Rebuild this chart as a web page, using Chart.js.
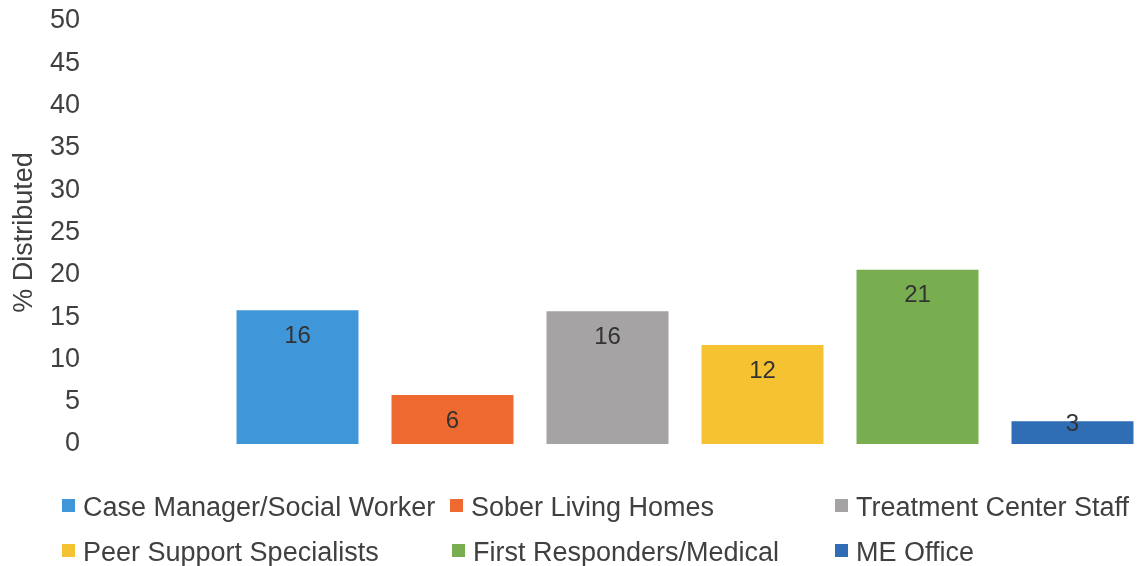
<!DOCTYPE html>
<html>
<head>
<meta charset="utf-8">
<script src="https://cdn.jsdelivr.net/npm/chart.js@4/dist/chart.umd.min.js"></script>
<style>
  html, body { margin: 0; padding: 0; background: #fff; overflow: hidden; }
  #wrap { position: relative; width: 1150px; height: 566px; }
  #legend { position: absolute; left: 0; top: 0; width: 1141px; height: 566px; pointer-events: none;
    font-family: "Liberation Sans", Arial, sans-serif; font-size: 27px; color: #404040; }
  .item { position: absolute; display: flex; align-items: center; white-space: nowrap; height: 30px; }
  .sw { width: 13px; height: 13px; margin-right: 8px; margin-top: -3px; }
</style>
</head>
<body>
<div id="wrap">
  <canvas id="c" width="1150" height="566"></canvas>
  <div id="legend"></div>
</div>
<script>
const categories = ["Case Manager/Social Worker", "Sober Living Homes", "Treatment Center Staff",
                    "Peer Support Specialists", "First Responders/Medical", "ME Office"];
const values = [15.8, 5.8, 15.7, 11.7, 20.6, 2.7];
const colors = ["#3F96D9", "#EE6A30", "#A5A3A3", "#F5C232", "#78AD50", "#2F6DB5"];
const yTitle = "% Distributed";
const yMin = 0, yMax = 50, yStep = 5;

const legendPos = [[62, 507], [450, 507], [835, 507], [62, 552], [452, 552], [835, 552]];
const legend = document.getElementById('legend');
categories.forEach((cat, i) => {
  const d = document.createElement('div');
  d.className = 'item';
  d.style.left = legendPos[i][0] + 'px';
  d.style.top = (legendPos[i][1] - 15) + 'px';
  d.innerHTML = '<span class="sw" style="background:' + colors[i] + '"></span><span>' + cat + '</span>';
  legend.appendChild(d);
});

const labelPlugin = {
  id: 'barLabels',
  afterDatasetsDraw(chart) {
    const ctx = chart.ctx;
    const meta = chart.getDatasetMeta(0);
    ctx.save();
    ctx.font = '24px "Liberation Sans", Arial, sans-serif';
    ctx.fillStyle = '#333333';
    ctx.textAlign = 'center';
    ctx.textBaseline = 'middle';
    meta.data.forEach((bar, i) => {
      const h = bar.base - bar.y;
      const y = h > 40 ? bar.y + 26 : bar.y + 3;
      ctx.fillText(String(Math.round(values[i])), bar.x, y);
    });
    ctx.restore();
  }
};

new Chart(document.getElementById('c'), {
  type: 'bar',
  data: {
    labels: categories,
    datasets: [{
      data: values,
      backgroundColor: colors,
      borderWidth: 0,
      categoryPercentage: 1,
      barPercentage: 0.787
    }]
  },
  options: {
    responsive: false,
    animation: false,
    devicePixelRatio: 1,
    layout: { padding: { top: 0, right: 0, bottom: 122, left: 0 } },
    plugins: { legend: { display: false }, tooltip: { enabled: false } },
    scales: {
      x: { display: false },
      y: {
        min: yMin, max: yMax,
        grid: { display: false, drawTicks: false },
        border: { display: false },
        ticks: {
          stepSize: yStep,
          padding: 140,
          color: '#404040',
          font: { family: '"Liberation Sans", Arial, sans-serif', size: 27 }
        },
        title: {
          display: true,
          text: yTitle,
          color: '#404040',
          padding: { top: 8, bottom: 0 },
          font: { family: '"Liberation Sans", Arial, sans-serif', size: 27 }
        },
        afterFit(scale) {
          scale.width = 220;
          scale.paddingTop = 21;
          scale.paddingBottom = 0;
        }
      }
    }
  },
  plugins: [labelPlugin]
});
</script>
</body>
</html>
